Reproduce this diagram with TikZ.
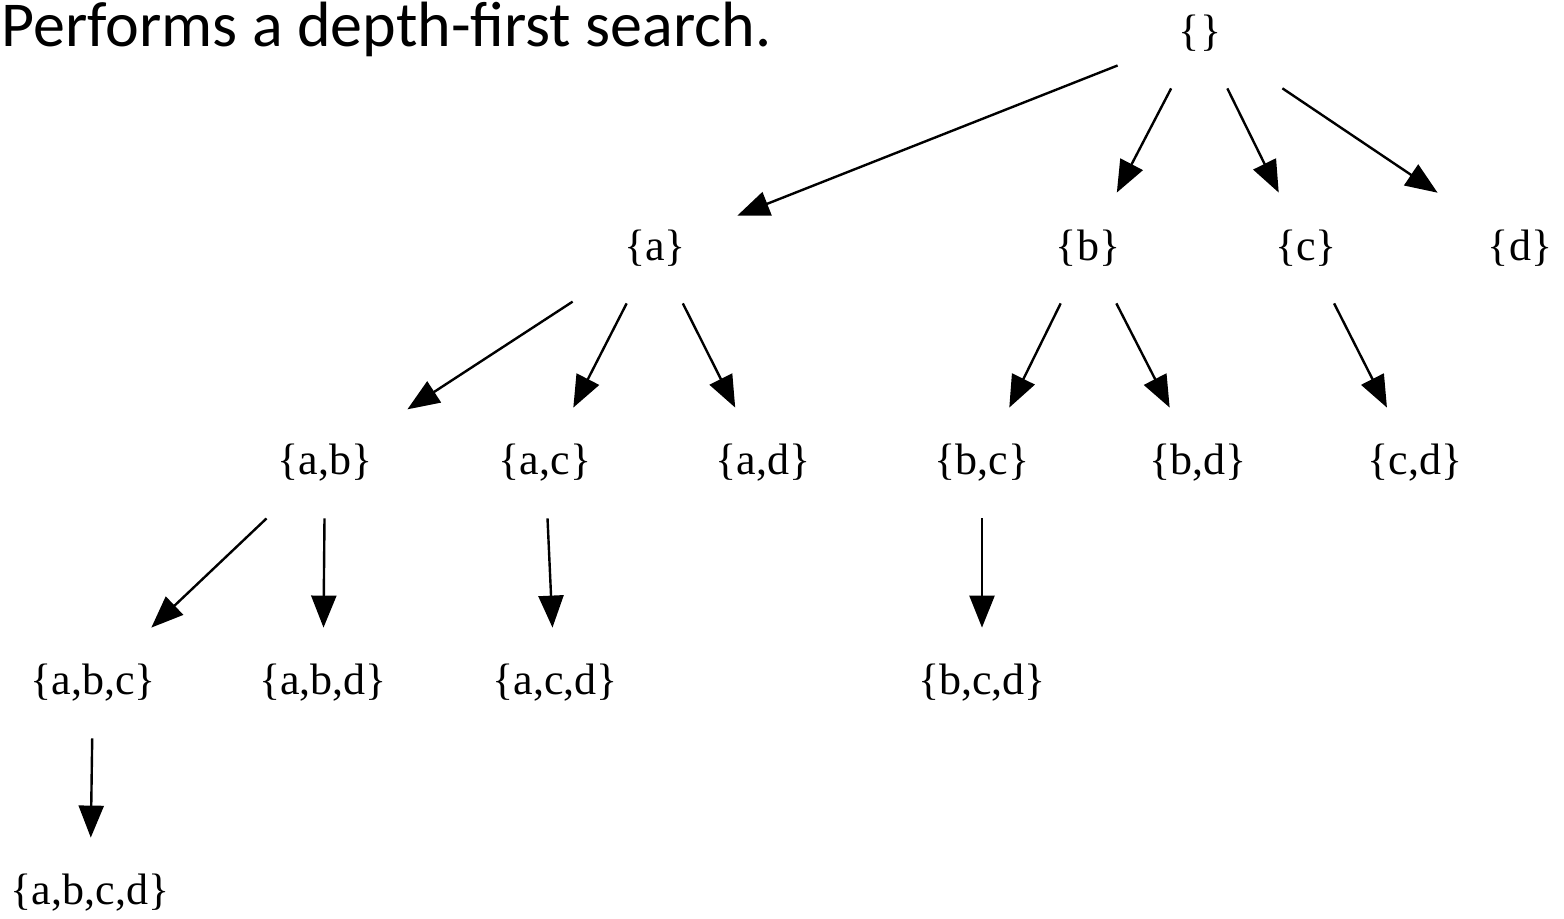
\documentclass[tikz,border=0pt]{standalone}
\usepackage{fontspec}
\setmainfont{Liberation Serif}
\newfontfamily\titlefont{Carlito}
\usetikzlibrary{arrows.meta}

\begin{document}
\begin{tikzpicture}[x=0.5pt, y=-0.5pt,
  setnode/.style={draw=none, inner sep=0pt, minimum width=82pt, minimum height=55pt,
    font=\fontsize{22pt}{24pt}\selectfont},
  link/.style={line width=1.2pt, -{Triangle[length=16pt, width=12.5pt]}}]
  \useasboundingbox (0,0) rectangle (1564,919);

  % heading
  \node[anchor=base west, inner sep=0pt, font=\titlefont\fontsize{32pt}{36pt}\selectfont]
    (title) at (1,47) {Performs a depth-first search.};

  % subset lattice, level by level
  \node[setnode] (e)    at (1200,33)  {\{\}};

  \node[setnode] (a)    at (655,248)  {\{a\}};
  \node[setnode] (b)    at (1088,248) {\{b\}};
  \node[setnode] (c)    at (1306,248) {\{c\}};
  \node[setnode] (d)    at (1520,248) {\{d\}};

  \node[setnode] (ab)   at (325,463)  {\{a,b\}};
  \node[setnode] (ac)   at (545,463)  {\{a,c\}};
  \node[setnode] (ad)   at (763,463)  {\{a,d\}};
  \node[setnode] (bc)   at (982,463)  {\{b,c\}};
  \node[setnode] (bd)   at (1198,463) {\{b,d\}};
  \node[setnode] (cd)   at (1415,463) {\{c,d\}};

  \node[setnode] (abc)  at (93,683)   {\{a,b,c\}};
  \node[setnode] (abd)  at (323,683)  {\{a,b,d\}};
  \node[setnode] (acd)  at (555,683)  {\{a,c,d\}};
  \node[setnode] (bcd)  at (982,683)  {\{b,c,d\}};

  \node[setnode] (abcd) at (90,893)   {\{a,b,c,d\}};

  % search-tree edges
  \draw[link] (e) -- (a);
  \draw[link] (e) -- (b);
  \draw[link] (e) -- (c);
  \draw[link] (e) -- (d);
  \draw[link] (a) -- (ab);
  \draw[link] (a) -- (ac);
  \draw[link] (a) -- (ad);
  \draw[link] (b) -- (bc);
  \draw[link] (b) -- (bd);
  \draw[link] (c) -- (cd);
  \draw[link] (ab) -- (abc);
  \draw[link] (ab) -- (abd);
  \draw[link] (ac) -- (acd);
  \draw[link] (bc) -- (bcd);
  \draw[link] (abc) -- (abcd);
\end{tikzpicture}
\end{document}
